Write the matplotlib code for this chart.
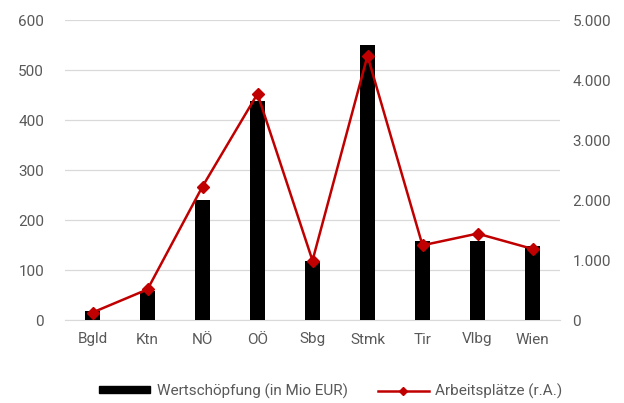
import matplotlib
matplotlib.use('Agg')
import matplotlib.pyplot as plt
import numpy as np
from matplotlib.lines import Line2D
from matplotlib.patches import Patch

# data
regionen = ['Bgld', 'Ktn', 'NÖ', 'OÖ', 'Sbg', 'Stmk', 'Tir', 'Vlbg', 'Wien']
wertschoepfung = [18, 58, 241, 438, 119, 551, 159, 159, 149]
arbeitsplaetze = [125, 510, 2225, 3770, 990, 4405, 1245, 1440, 1185]
left_ticks = [0, 100, 200, 300, 400, 500, 600]
right_ticks = [0, 1000, 2000, 3000, 4000, 5000]
right_labels = ['0', '1.000', '2.000', '3.000', '4.000', '5.000']

plt.rcParams['font.family'] = ['Roboto', 'DejaVu Sans']
fts = 11
txtcol = '#595959'
gridcol = '#d9d9d9'
red = '#c00000'

fig = plt.figure(figsize=(6.24, 4.03), dpi=100)
ax = fig.add_axes([65/624, 1-320/403, 495/624, 300/403])
x = np.arange(len(regionen))

ax.bar(x, wertschoepfung, width=0.26, color='black', zorder=3)
ax.set_ylim(0, 600)
ax.set_xlim(-0.5, len(regionen)-0.5)
ax.set_yticks(left_ticks)
ax.set_yticklabels([str(t) for t in left_ticks])
ax.set_xticks(x)
ax.set_xticklabels(regionen)
ax.grid(axis='y', color=gridcol, lw=0.9, zorder=0)
for s in ['top', 'right', 'left']:
    ax.spines[s].set_visible(False)
ax.spines['bottom'].set_color(gridcol)
ax.tick_params(length=0, colors=txtcol, labelsize=fts)
ax.tick_params(axis='x', pad=9)
ax.tick_params(axis='y', pad=15)

ax2 = ax.twinx()
ax2.plot(x, arbeitsplaetze, color=red, lw=1.8, marker='D', ms=6.5, zorder=4)
ax2.set_ylim(0, 5000)
ax2.set_yticks(right_ticks)
ax2.set_yticklabels(right_labels)
for s in ax2.spines.values():
    s.set_visible(False)
ax2.tick_params(length=0, colors=txtcol, labelsize=fts, pad=9)

handles = [Patch(color='black'),
           Line2D([0], [0], color=red, lw=1.8, marker='D', ms=4)]
fig.legend(handles, ['Wertschöpfung (in Mio EUR)', 'Arbeitsplätze (r.A.)'],
           loc='center', bbox_to_anchor=(331/624, 1-391/403), ncol=2, frameon=False,
           fontsize=fts, labelcolor=txtcol, handlelength=3.3, handleheight=0.35,
           columnspacing=2.0, handletextpad=0.45, borderpad=0)

fig.savefig('out.png', dpi=100)
